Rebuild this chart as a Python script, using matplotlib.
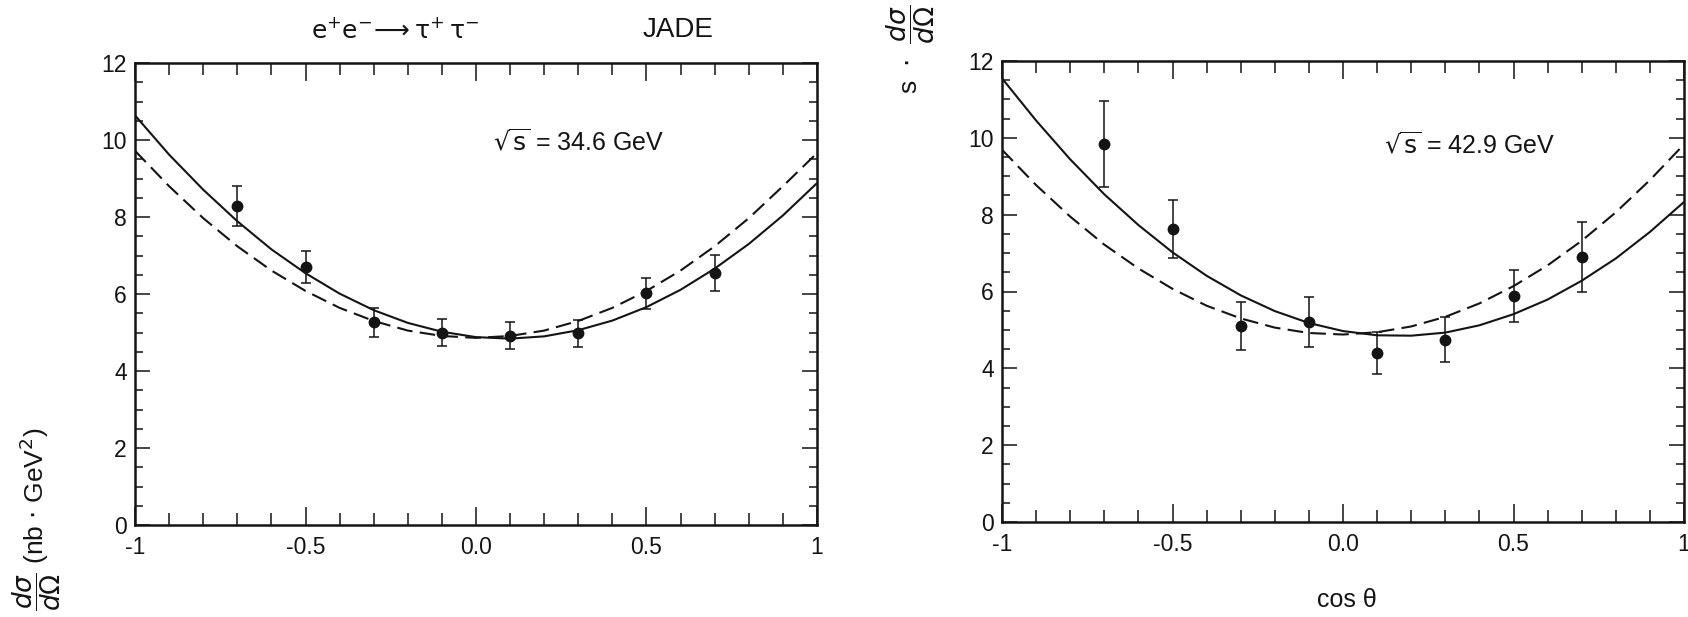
import matplotlib
matplotlib.use("Agg")
import matplotlib.pyplot as plt
from matplotlib.ticker import MultipleLocator, FixedLocator, FixedFormatter

plt.rcParams['font.family'] = ['Liberation Sans', 'DejaVu Sans']
plt.rcParams['mathtext.fontset'] = 'dejavusans'
plt.rcParams['axes.unicode_minus'] = False

# ---------------- data ----------------
cos_bins = [-0.7, -0.5, -0.3, -0.1, 0.1, 0.3, 0.5, 0.7]

y_346 = [8.28, 6.70, 5.26, 5.00, 4.92, 4.98, 6.02, 6.55]
err_346 = [0.52, 0.42, 0.38, 0.36, 0.36, 0.35, 0.40, 0.47]

y_429 = [9.85, 7.62, 5.10, 5.20, 4.40, 4.75, 5.88, 6.90]
err_429 = [1.12, 0.76, 0.62, 0.65, 0.55, 0.58, 0.68, 0.90]

cos_grid = [-1.0, -0.9, -0.8, -0.7, -0.6, -0.5, -0.4, -0.3, -0.2, -0.1, 0.0,
            0.1, 0.2, 0.3, 0.4, 0.5, 0.6, 0.7, 0.8, 0.9, 1.0]

solid_346 = [10.64, 9.62, 8.71, 7.89, 7.16, 6.54, 6.01, 5.58, 5.25, 5.02, 4.88,
             4.84, 4.90, 5.06, 5.31, 5.66, 6.11, 6.66, 7.30, 8.04, 8.88]
dashed_346 = [9.72, 8.80, 7.97, 7.24, 6.61, 6.08, 5.64, 5.30, 5.05, 4.91, 4.86,
              4.91, 5.05, 5.30, 5.64, 6.08, 6.61, 7.24, 7.97, 8.80, 9.66]

solid_429 = [11.55, 10.45, 9.44, 8.53, 7.73, 7.02, 6.41, 5.90, 5.49, 5.18, 4.97,
             4.86, 4.85, 4.93, 5.12, 5.41, 5.79, 6.28, 6.86, 7.55, 8.33]
dashed_429 = [9.69, 8.77, 7.95, 7.22, 6.60, 6.07, 5.63, 5.30, 5.06, 4.92, 4.88,
              4.94, 5.09, 5.34, 5.69, 6.14, 6.68, 7.32, 8.06, 8.90, 9.83]

x_ticks = [-1, -0.5, 0.0, 0.5, 1]
x_ticklabels = ["-1", "-0.5", "0.0", "0.5", "1"]
y_ticks = [0, 2, 4, 6, 8, 10, 12]
y_ticklabels = ["0", "2", "4", "6", "8", "10", "12"]

energy_labels = [r"$\sqrt{\mathrm{s}}$ = 34.6 GeV", r"$\sqrt{\mathrm{s}}$ = 42.9 GeV"]

# ---------------- figure ----------------
W, H = 1688, 617
fig = plt.figure(figsize=(W / 100, H / 100), dpi=100)
ink = "#141414"

ax1 = fig.add_axes([135 / W, 1 - 525 / H, 682 / W, 462 / H])
ax2 = fig.add_axes([1002 / W, 1 - 522 / H, 682 / W, 461 / H])

panels = [
    (ax1, y_346, err_346, solid_346, dashed_346, energy_labels[0], (0.05, 9.95)),
    (ax2, y_429, err_429, solid_429, dashed_429, energy_labels[1], (0.12, 9.82)),
]

for ax, yv, ev, sol, dash, lab, pos in panels:
    ax.plot(cos_grid, sol, color=ink, lw=1.5, solid_capstyle='butt')
    ax.plot(cos_grid, dash, color=ink, lw=1.5, linestyle=(0, (7.5, 3.5)))
    ax.errorbar(cos_bins, yv, yerr=ev, fmt='o', color=ink, ms=7.5,
                elinewidth=1.1, capsize=3.6, capthick=1.1)
    ax.set_xlim(-1, 1)
    ax.set_ylim(0, 12)
    ax.xaxis.set_major_locator(FixedLocator(x_ticks))
    ax.xaxis.set_major_formatter(FixedFormatter(x_ticklabels))
    ax.yaxis.set_major_locator(FixedLocator(y_ticks))
    ax.yaxis.set_major_formatter(FixedFormatter(y_ticklabels))
    ax.xaxis.set_minor_locator(MultipleLocator(0.1))
    ax.yaxis.set_minor_locator(MultipleLocator(0.5))
    ax.tick_params(which='both', direction='in', top=True, right=True,
                   color=ink, width=1.1, labelsize=16.5, labelcolor=ink)
    ax.tick_params(axis='x', which='major', length=13, pad=8)
    ax.tick_params(axis='x', which='minor', length=8.5)
    ax.tick_params(axis='y', which='major', length=10.5, pad=6)
    ax.tick_params(axis='y', which='minor', length=5.5)
    for sp in ax.spines.values():
        sp.set_linewidth(1.8)
        sp.set_color(ink)
    ax.text(pos[0], pos[1], lab, fontsize=18, color=ink, ha='left', va='center')

# x label (right panel)
fig.text(1347 / W, 1 - 600 / H, "cos θ", fontsize=18, color=ink,
         ha='center', va='center')

# header texts
fig.text(395 / W, 1 - 30 / H,
         r"$\mathrm{e^{+}e^{-}}\!\longrightarrow\mathrm{\tau^{+}\,\tau^{-}}$",
         fontsize=18, color=ink, ha='center', va='center')
fig.text(678 / W, 1 - 30 / H, "JADE", fontsize=20, color=ink,
         ha='center', va='center')

# y label fragment at the bottom left
fig.text(37 / W, 1 - 428 / H,
         r"$\dfrac{d\sigma}{d\Omega}$ (nb $\cdot$ GeV$^{2}$)",
         rotation=90, fontsize=19, color=ink, ha='center', va='top')

# y label fragment at the top between the panels
fig.text(911 / W, 1 - 94 / H, r"s  $\cdot$  $\dfrac{d\sigma}{d\Omega}$",
         rotation=90, fontsize=19, color=ink, ha='center', va='bottom')

fig.savefig("out.png", dpi=100)
